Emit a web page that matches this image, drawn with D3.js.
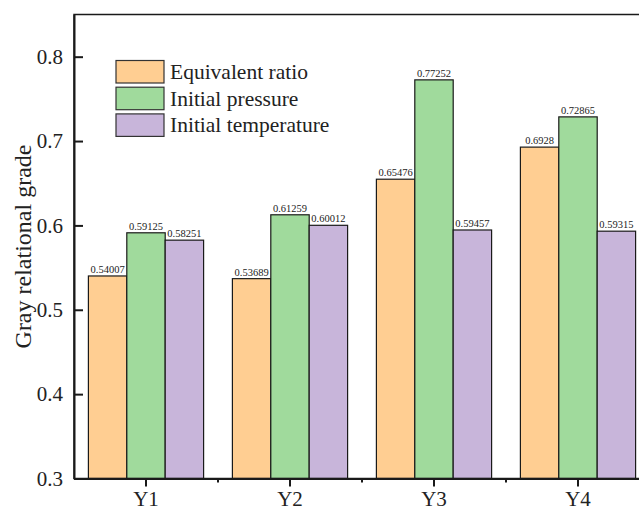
<!DOCTYPE html>
<html>
<head>
<meta charset="utf-8">
<script src="https://cdn.jsdelivr.net/npm/d3@7"></script>
<style>
  html, body { margin: 0; padding: 0; background: #fff; }
  svg { display: block; font-family: "Liberation Serif", "Times New Roman", serif; }
</style>
</head>
<body>
<div id="chart"></div>
<script>
// Datos
const categories = ['Y1', 'Y2', 'Y3', 'Y4'];
const seriesNames = ['Equivalent ratio', 'Initial pressure', 'Initial temperature'];
const seriesColors = ['#FFCE92', '#A0DA9C', '#C8B5DA'];
const equivalentRatio = [0.54007, 0.53689, 0.65476, 0.6928];
const initialPressure = [0.59125, 0.61259, 0.77252, 0.72865];
const initialTemperature = [0.58251, 0.60012, 0.59457, 0.59315];
const valueLabels = [
    ['0.54007', '0.53689', '0.65476', '0.6928'],
    ['0.59125', '0.61259', '0.77252', '0.72865'],
    ['0.58251', '0.60012', '0.59457', '0.59315']
];
const yTicks = [0.3, 0.4, 0.5, 0.6, 0.7, 0.8];

const seriesValues = [equivalentRatio, initialPressure, initialTemperature];

const width = 639, height = 510;
const margin = { top: 14.5, right: -11, bottom: 31.5, left: 74 };
const innerW = width - margin.left - margin.right;
const innerH = height - margin.top - margin.bottom;

const svg = d3.select('#chart').append('svg')
    .attr('width', width)
    .attr('height', height);

const g = svg.append('g')
    .attr('transform', `translate(${margin.left},${margin.top})`);

// Escalas
const x = d3.scaleBand()
    .domain(categories)
    .range([0, innerW])
    .paddingInner(0.2)
    .paddingOuter(0.1);

const xSub = d3.scaleBand()
    .domain(d3.range(seriesNames.length))
    .range([0, x.bandwidth()]);

const y = d3.scaleLinear()
    .domain([0.3, 0.85])
    .range([innerH, 0]);

// Barras
const rows = [];
categories.forEach((c, i) => {
    seriesValues.forEach((vals, s) => {
        rows.push({ cat: c, s: s, v: vals[i], label: valueLabels[s][i] });
    });
});

g.selectAll('rect.bar')
    .data(rows)
    .enter()
    .append('rect')
    .attr('class', 'bar')
    .attr('x', d => x(d.cat) + xSub(d.s))
    .attr('y', d => y(d.v))
    .attr('width', xSub.bandwidth())
    .attr('height', d => innerH - y(d.v))
    .attr('fill', d => seriesColors[d.s])
    .attr('stroke', '#1a1a1a')
    .attr('stroke-width', 1.2);

// Etiquetas de valores
g.selectAll('text.val')
    .data(rows)
    .enter()
    .append('text')
    .attr('class', 'val')
    .attr('x', d => x(d.cat) + xSub(d.s) + xSub.bandwidth() / 2)
    .attr('y', d => y(d.v) - 3)
    .attr('text-anchor', 'middle')
    .style('font-size', '10.5px')
    .style('fill', '#222')
    .text(d => d.label);

// Marco
g.append('rect')
    .attr('x', 0)
    .attr('y', 0)
    .attr('width', innerW)
    .attr('height', innerH)
    .attr('fill', 'none')
    .attr('stroke', '#1a1a1a')
    .attr('stroke-width', 1.5);

// Eje Y
const yAxis = d3.axisLeft(y)
    .tickValues(yTicks)
    .tickSizeInner(-9)
    .tickSizeOuter(0)
    .tickPadding(11)
    .tickFormat(d3.format('.1f'));

const yG = g.append('g').call(yAxis);
yG.select('.domain').attr('stroke', '#1a1a1a').attr('stroke-width', 2);
yG.selectAll('.tick line').attr('stroke', '#1a1a1a').attr('stroke-width', 2);
yG.selectAll('.tick text')
    .style('font-size', '21px')
    .style('font-family', '"Liberation Serif", serif')
    .attr('fill', '#222');

// Eje X
const xAxis = d3.axisBottom(x)
    .tickSizeInner(8)
    .tickSizeOuter(0)
    .tickPadding(5);

const xG = g.append('g')
    .attr('transform', `translate(0,${innerH})`)
    .call(xAxis);
xG.select('.domain').attr('stroke', '#1a1a1a').attr('stroke-width', 2);
xG.selectAll('.tick line').attr('stroke', '#1a1a1a').attr('stroke-width', 2);
xG.selectAll('.tick text')
    .style('font-size', '21px')
    .style('font-family', '"Liberation Serif", serif')
    .attr('fill', '#222');

// Marcas menores entre grupos
const step = x.step();
const minorTicks = categories.slice(0, -1).map(c => x(c) + x.bandwidth() / 2 + step / 2);
xG.selectAll('line.minor')
    .data(minorTicks)
    .enter()
    .append('line')
    .attr('class', 'minor')
    .attr('x1', d => d)
    .attr('x2', d => d)
    .attr('y1', 0)
    .attr('y2', 4)
    .attr('stroke', '#1a1a1a')
    .attr('stroke-width', 2);

// Título del eje Y
svg.append('text')
    .attr('transform', `translate(31,${margin.top + innerH / 2}) rotate(-90)`)
    .attr('text-anchor', 'middle')
    .style('font-size', '24px')
    .style('fill', '#222')
    .text('Gray relational grade');

// Leyenda
const legend = g.append('g')
    .attr('transform', 'translate(42,46)');

const legendItems = legend.selectAll('g.item')
    .data(seriesNames)
    .enter()
    .append('g')
    .attr('class', 'item')
    .attr('transform', (d, i) => `translate(0,${i * 26.7})`);

legendItems.append('rect')
    .attr('width', 48)
    .attr('height', 22.5)
    .attr('fill', (d, i) => seriesColors[i])
    .attr('stroke', '#333')
    .attr('stroke-width', 1.2);

legendItems.append('text')
    .attr('x', 54)
    .attr('y', 18.5)
    .style('font-size', '21.5px')
    .style('fill', '#222')
    .text(d => d);
</script>
</body>
</html>
